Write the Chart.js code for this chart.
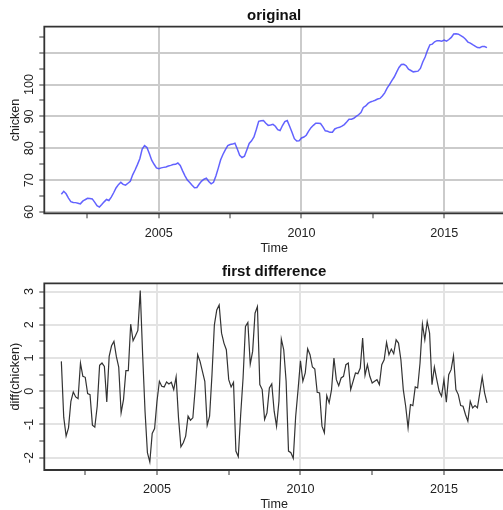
<!DOCTYPE html>
<html lang="en">
<head>
<meta charset="UTF-8">
<title>chicken</title>
<script src="https://cdn.jsdelivr.net/npm/chart.js@4"></script>
<style>
  body { margin: 0; background: #fff; overflow: hidden; width: 503px; height: 510px; }
  canvas { display: block; }
</style>
</head>
<body>
<canvas id="top" width="510" height="255"></canvas>
<canvas id="bottom" width="510" height="255"></canvas>
<script>
// monthly price, Aug 2001 - Jul 2016
const startLevel = 2001 + 7 / 12;
const startDiff = 2001 + 8 / 12;

const chicken = [
  65.60, 66.50, 65.72, 64.37, 63.27, 62.97, 62.95, 62.78, 62.56, 63.41, 63.86, 64.28, 64.21, 64.11, 63.09, 62.01, 61.56, 62.34, 63.19, 63.94,
  63.62, 64.67, 66.04, 67.54, 68.59, 69.32, 68.67, 68.42, 69.04, 69.66, 71.68, 73.20, 74.87, 76.70, 79.73, 80.83, 80.23, 78.38, 76.25, 74.98,
  73.86, 73.56, 73.86, 74.01, 74.14, 74.42, 74.64, 74.91, 74.96, 75.39, 74.59, 72.92, 71.37, 70.02, 69.27, 68.40, 67.60, 67.70, 68.80, 69.70,
  70.30, 70.60, 69.58, 68.83, 69.33, 71.33, 73.78, 76.38, 78.13, 79.58, 80.83, 81.18, 81.31, 81.58, 79.78, 77.81, 77.11, 77.51, 79.46, 81.53,
  82.35, 83.55, 85.90, 88.45, 88.65, 88.70, 87.85, 87.20, 87.30, 87.52, 86.92, 85.87, 85.57, 87.14, 88.39, 88.69, 86.89, 85.04, 83.02, 82.27,
  82.32, 83.24, 83.54, 84.09, 85.37, 86.47, 87.20, 87.87, 87.84, 87.79, 86.74, 85.49, 85.36, 85.01, 85.06, 86.06, 86.41, 86.58, 86.98, 87.43,
  88.23, 89.08, 89.13, 89.43, 89.98, 90.51, 91.21, 92.81, 93.29, 94.09, 94.54, 94.79, 95.09, 95.44, 95.64, 96.44, 97.39, 98.86, 99.96, 101.23,
  102.36, 103.91, 105.36, 106.31, 106.36, 105.91, 104.81, 104.41, 103.98, 104.11, 104.21, 105.06, 107.08, 108.63, 110.73, 112.48, 112.68, 113.41, 113.76, 113.76,
  113.61, 113.96, 113.63, 114.13, 114.78, 115.85, 115.90, 115.80, 115.37, 114.92, 114.22, 113.32, 113.02, 112.52, 112.09, 111.59, 111.54, 111.97, 111.92, 111.57
];

const chickenDiff = [
  0.90, -0.78, -1.35, -1.10, -0.30, -0.02, -0.17, -0.22, 0.85, 0.45, 0.42, -0.07, -0.10, -1.02, -1.08, -0.45, 0.78, 0.85, 0.75, -0.32,
  1.05, 1.37, 1.50, 1.05, 0.73, -0.65, -0.25, 0.62, 0.62, 2.02, 1.52, 1.67, 1.83, 3.03, 1.10, -0.60, -1.85, -2.13, -1.27, -1.12,
  -0.30, 0.30, 0.15, 0.13, 0.28, 0.22, 0.27, 0.05, 0.43, -0.80, -1.67, -1.55, -1.35, -0.75, -0.87, -0.80, 0.10, 1.10, 0.90, 0.60,
  0.30, -1.02, -0.75, 0.50, 2.00, 2.45, 2.60, 1.75, 1.45, 1.25, 0.35, 0.13, 0.27, -1.80, -1.97, -0.70, 0.40, 1.95, 2.07, 0.82,
  1.20, 2.35, 2.55, 0.20, 0.05, -0.85, -0.65, 0.10, 0.22, -0.60, -1.05, -0.30, 1.57, 1.25, 0.30, -1.80, -1.85, -2.02, -0.75, 0.05,
  0.92, 0.30, 0.55, 1.28, 1.10, 0.73, 0.67, -0.03, -0.05, -1.05, -1.25, -0.13, -0.35, 0.05, 1.00, 0.35, 0.17, 0.40, 0.45, 0.80,
  0.85, 0.05, 0.30, 0.55, 0.53, 0.70, 1.60, 0.48, 0.80, 0.45, 0.25, 0.30, 0.35, 0.20, 0.80, 0.95, 1.47, 1.10, 1.27, 1.13,
  1.55, 1.45, 0.95, 0.05, -0.45, -1.10, -0.40, -0.43, 0.13, 0.10, 0.85, 2.02, 1.55, 2.10, 1.75, 0.20, 0.73, 0.35, 0.00, -0.15,
  0.35, -0.33, 0.50, 0.65, 1.07, 0.05, -0.10, -0.43, -0.45, -0.70, -0.90, -0.30, -0.50, -0.43, -0.50, -0.05, 0.43, -0.05, -0.35
];

const xTicks = [2002.5, 2005, 2007.5, 2010, 2012.5, 2015];
const xLabels = [2005, 2010, 2015];
const yTicksTop = [60, 65, 70, 75, 80, 85, 90, 95, 100, 105, 110, 115];
const yGridTop = [60, 70, 80, 90, 100, 110];
const yLabelsTop = [60, 70, 80, 90, 100];
const yTicksBottom = [-2, -1.5, -1, -0.5, 0, 0.5, 1, 1.5, 2, 2.5, 3];
const yGridBottom = [-2, -1, 0, 1, 2, 3];
const yLabelsBottom = [-2, -1, 0, 1, 2, 3];

const FONT = '"Liberation Sans", Arial, sans-serif';

// R style decorations: box, title, axis labels
function decor(o) {
  return {
    id: 'decor',
    afterDraw(chart) {
      const { ctx, chartArea: a } = chart;
      const x = chart.scales.x, y = chart.scales.y;
      const cx = (a.left + a.right) / 2;
      ctx.save();
      ctx.strokeStyle = '#333';
      ctx.lineWidth = 1.8;
      ctx.beginPath();
      ctx.moveTo(a.right + 6, a.top);
      ctx.lineTo(a.left, a.top);
      ctx.lineTo(a.left, a.bottom);
      ctx.lineTo(a.right + 6, a.bottom);
      ctx.stroke();

      ctx.textAlign = 'center';
      ctx.textBaseline = 'alphabetic';
      ctx.fillStyle = '#111';
      ctx.font = 'bold 15px ' + FONT;
      ctx.fillText(o.title, cx, o.titleBase);

      ctx.fillStyle = '#222';
      ctx.font = '12.6px ' + FONT;
      o.xLabels.forEach(v => ctx.fillText(String(v), x.getPixelForValue(v), a.bottom + 23.4));
      ctx.fillText('Time', cx, a.bottom + 38.2);

      o.yLabels.forEach(v => {
        ctx.save();
        ctx.translate(33.3, y.getPixelForValue(v));
        ctx.rotate(-Math.PI / 2);
        ctx.fillText(String(v), 0, 0);
        ctx.restore();
      });
      ctx.save();
      ctx.translate(19, (a.top + a.bottom) / 2);
      ctx.rotate(-Math.PI / 2);
      ctx.fillText(o.ylab, 0, 0);
      ctx.restore();
      ctx.restore();
    }
  };
}

function makeChart(id, values, o) {
  const points = values.map((v, i) => ({ x: o.t0 + i / 12, y: v }));
  return new Chart(document.getElementById(id), {
    type: 'line',
    data: {
      datasets: [{
        data: points,
        borderColor: o.color,
        borderWidth: o.width,
        pointRadius: 0,
        tension: 0,
        fill: false
      }]
    },
    options: {
      responsive: false,
      animation: false,
      devicePixelRatio: 1,
      layout: { padding: { top: o.top, right: 6, left: 0, bottom: 0 } },
      plugins: { legend: { display: false }, tooltip: { enabled: false }, title: { display: false } },
      scales: {
        x: {
          type: 'linear',
          min: o.xmin,
          max: o.xmax,
          afterBuildTicks: s => { s.ticks = xTicks.map(v => ({ value: v })); },
          afterFit: s => { s.height = o.xh; },
          grid: {
            color: c => xLabels.includes(c.tick.value) ? o.grid : 'rgba(0,0,0,0)',
            lineWidth: 2,
            tickColor: '#333',
            tickWidth: 1,
            tickLength: 5
          },
          border: { display: false },
          ticks: { display: false }
        },
        y: {
          min: o.ymin,
          max: o.ymax,
          afterBuildTicks: s => { s.ticks = o.yTicks.map(v => ({ value: v })); },
          afterFit: s => { s.width = 44.3; },
          grid: {
            color: c => o.yGrid.includes(c.tick.value) ? o.grid : 'rgba(0,0,0,0)',
            lineWidth: 2,
            tickColor: '#333',
            tickWidth: 1,
            tickLength: 5
          },
          border: { display: false },
          ticks: { display: false }
        }
      }
    },
    plugins: [decor(o)]
  });
}

makeChart('top', chicken, {
  t0: startLevel, color: 'rgba(70,70,255,0.85)', width: 1.5, grid: '#cbcbcb',
  top: 26.7, xh: 41.7, xmin: 2000.986, xmax: 2017.097, ymin: 59.6, ymax: 118.15,
  yTicks: yTicksTop, yGrid: yGridTop, yLabels: yLabelsTop, xLabels: xLabels,
  title: 'original', titleBase: 19.5, ylab: 'chicken'
});

makeChart('bottom', chickenDiff, {
  t0: startDiff, color: '#333', width: 1.2, grid: '#e3e3e3',
  top: 28.3, xh: 40, xmin: 2001.073, xmax: 2017.093, ymin: -2.37, ymax: 3.25,
  yTicks: yTicksBottom, yGrid: yGridBottom, yLabels: yLabelsBottom, xLabels: xLabels,
  title: 'first difference', titleBase: 20.5, ylab: 'diff(chicken)'
});
</script>
</body>
</html>
